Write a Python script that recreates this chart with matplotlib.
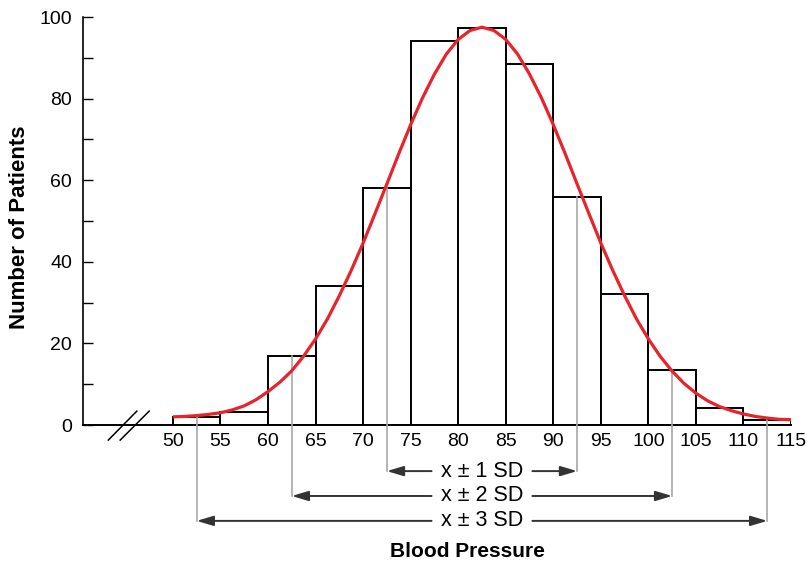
import matplotlib
matplotlib.use("Agg")
import matplotlib.pyplot as plt
import numpy as np

plt.rcParams['font.family'] = ['Liberation Sans', 'DejaVu Sans']

# Histogram data (bin edges 50..115, width 5)
bin_left = [50, 55, 60, 65, 70, 75, 80, 85, 90, 95, 100, 105, 110]
counts = [2, 3.2, 17, 34, 58, 94, 97.3, 88.5, 56, 32, 13.5, 4.2, 1.2]

# Fitted curve
curve_x = [50, 51.25, 52.5, 53.75, 55, 56.25, 57.5, 58.75, 60, 61.25, 62.5, 63.75,
           65, 66.25, 67.5, 68.75, 70, 71.25, 72.5, 73.75, 75, 76.25, 77.5, 78.75,
           80, 81.25, 82.5, 83.75, 85, 86.25, 87.5, 88.75, 90, 91.25, 92.5, 93.75,
           95, 96.25, 97.5, 98.75, 100, 101.25, 102.5, 103.75, 105, 106.25, 107.5,
           108.75, 110, 111.25, 112.5, 113.75, 115]
curve_y = [2.0, 2.1, 2.3, 2.6, 3.0, 3.7, 4.7, 6.2, 8.2, 10.5, 13.3, 16.9,
           21.1, 26.0, 31.7, 37.9, 44.6, 51.8, 59.1, 66.5, 73.6, 80.2, 86.0, 90.9,
           94.5, 96.7, 97.5, 96.7, 94.5, 90.9, 86.0, 80.2, 73.6, 66.5, 59.1, 51.8,
           44.6, 37.9, 31.7, 26.0, 21.1, 16.8, 13.2, 10.2, 7.8, 5.9, 4.5,
           3.5, 2.7, 2.1, 1.7, 1.4, 1.3]

# SD bands
mean = 82.5
sd = 10
sd_labels = ["x \u00b1 1 SD", "x \u00b1 2 SD", "x \u00b1 3 SD"]
sd_rows_y = [-11.3, -17.4, -23.5]

xticks = [50, 55, 60, 65, 70, 75, 80, 85, 90, 95, 100, 105, 110, 115]
yticks = [0, 20, 40, 60, 80, 100]

fig = plt.figure(figsize=(8.07, 5.66), dpi=100)
ax = fig.add_axes([83/807, 1-425/566, (791-83)/807, 408/566])

ax.bar(bin_left, counts, width=5, align='edge', facecolor='white',
       edgecolor='black', linewidth=1.4, zorder=2)
ax.plot(curve_x, curve_y, color='#e8232b', linewidth=2.3, zorder=4,
        solid_capstyle='butt')

ax.set_xlim(40.54, 115)
ax.set_ylim(0, 100)
ax.spines['top'].set_visible(False)
ax.spines['right'].set_visible(False)
ax.spines['left'].set_linewidth(1.2)
ax.spines['bottom'].set_linewidth(1.4)

ax.set_xticks(xticks)
ax.set_xticklabels([str(t) for t in xticks])
ax.set_yticks(yticks)
ax.set_yticks([10, 30, 50, 70, 90], minor=True)
ax.tick_params(axis='x', length=0, pad=6, labelsize=14)
ax.tick_params(axis='y', which='both', direction='in', length=7, width=1.0,
               pad=8, labelsize=14)

ax.text(-0.089, 0.485, "Number of Patients", transform=ax.transAxes, rotation=90,
        ha='center', va='center', fontsize=16, fontweight='bold')
ax.text(81.0, -31.0, "Blood Pressure", ha='center', va='center',
        fontsize=15, fontweight='bold', clip_on=False)

# axis break marks
for x0, x1 in ((43.2, 46.2), (44.45, 47.5)):
    ax.plot([x0, x1], [-3.7, 3.4], color='black', linewidth=1.1, clip_on=False)

def bar_height_at(x):
    for bl, c in zip(bin_left, counts):
        if bl <= x < bl + 5:
            return c
    return 0

for k, (lab, yrow) in enumerate(zip(sd_labels, sd_rows_y), start=1):
    lo, hi = mean - k * sd, mean + k * sd
    for xv in (lo, hi):
        ax.plot([xv, xv], [bar_height_at(xv), yrow], color='#a8a8a8',
                linewidth=1.2, clip_on=False, zorder=3)
    ax.text(mean, yrow, lab, ha='center', va='center', fontsize=15.5,
            clip_on=False)
    for start, end in ((mean - 5.3, lo), (mean + 5.3, hi)):
        ax.annotate("", xy=(end, yrow), xytext=(start, yrow),
                    xycoords='data', textcoords='data', annotation_clip=False,
                    arrowprops=dict(arrowstyle='-|>,head_length=1.0,head_width=0.3',
                                    color='#333333', linewidth=1.4,
                                    shrinkA=0, shrinkB=0))

fig.savefig("out.png", dpi=100)
